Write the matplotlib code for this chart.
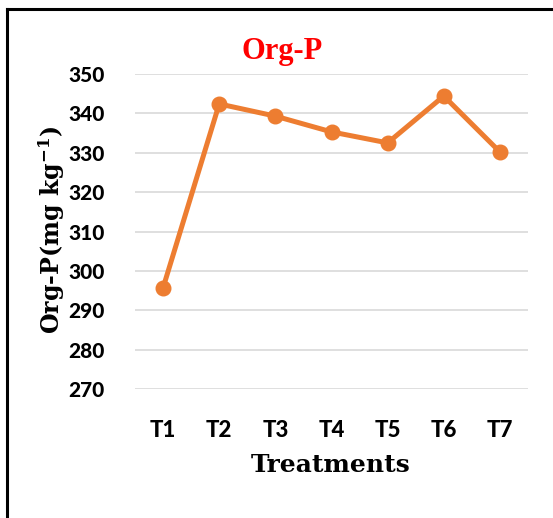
import matplotlib
matplotlib.use("Agg")
import matplotlib.pyplot as plt
from matplotlib.lines import Line2D

categories = ["T1", "T2", "T3", "T4", "T5", "T6", "T7"]
org_p = [295.7, 342.4, 339.3, 335.3, 332.5, 344.4, 330.2]
y_ticks = [270, 280, 290, 300, 310, 320, 330, 340, 350]

plt.rcParams['mathtext.fontset'] = 'dejavuserif'

W, H = 553, 518
fig = plt.figure(figsize=(W / 100, H / 100), dpi=100)
ax = fig.add_axes([135 / W, 1 - 389 / H, (528 - 135) / W, (389 - 74) / H])

x = list(range(len(categories)))
ax.plot(x, org_p, color="#ED7D31", lw=3.6, marker="o", markersize=10.5,
        solid_joinstyle="miter", clip_on=False, zorder=3)

ax.set_xlim(-0.5, len(categories) - 0.5)
ax.set_ylim(270, 350)
ax.set_yticks(y_ticks)
ax.set_xticks(x)
ax.set_xticklabels(categories)
ax.grid(axis="y", color="#D9D9D9", lw=1.2)
ax.set_axisbelow(True)
for s in ax.spines.values():
    s.set_visible(False)
ax.tick_params(length=0)
for lab in ax.get_yticklabels():
    lab.set_fontfamily("Lato")
    lab.set_fontweight("black")
    lab.set_fontsize(15)
for lab in ax.get_xticklabels():
    lab.set_fontfamily("Lato")
    lab.set_fontweight("black")
    lab.set_fontsize(16)
ax.tick_params(axis="y", pad=22)
ax.tick_params(axis="x", pad=22)

fig.text(282 / W, 1 - 51 / H, "Org-P", color="red", fontfamily="Liberation Serif",
         fontweight="bold", fontsize=22, ha="center", va="center")
fig.text(331 / W, 1 - 465 / H, "Treatments", fontfamily="DejaVu Serif",
         fontweight="bold", fontsize=18, ha="center", va="center")
fig.text(52 / W, 1 - 230 / H, r"Org-P(mg kg$^{\mathbf{-1}}$)", fontfamily="DejaVu Serif",
         fontweight="bold", fontsize=17, ha="center", va="center", rotation=90)

# outer frame (left and top visible)
fig.add_artist(Line2D([6.5 / W, 6.5 / W], [0, 1 - 8.5 / H], color="black", lw=2.2,
                      transform=fig.transFigure, solid_capstyle="projecting"))
fig.add_artist(Line2D([6.5 / W, 1], [1 - 8.5 / H, 1 - 8.5 / H], color="black", lw=2.2,
                      transform=fig.transFigure, solid_capstyle="projecting"))

fig.savefig("out.png", dpi=100)
